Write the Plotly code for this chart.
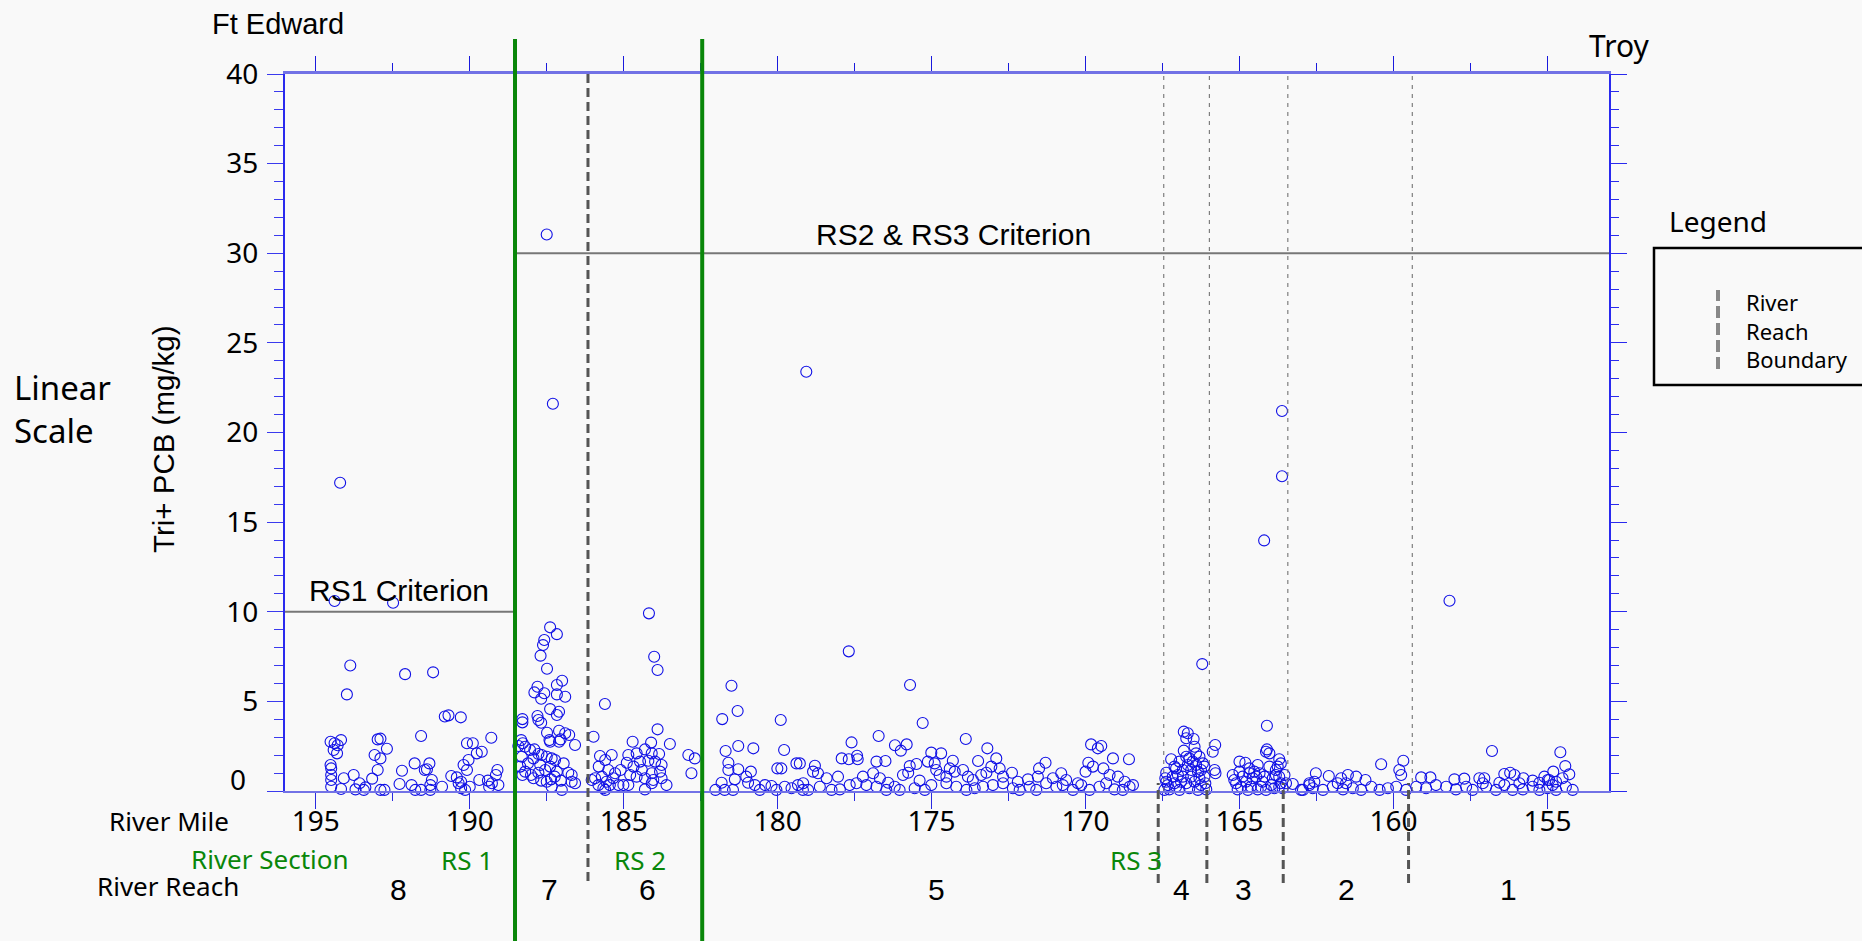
import plotly.graph_objects as go

# ---- sample data: river mile vs Tri+ PCB (mg/kg), grouped by river reach ----
reach8_mile = [194.39, 192.49, 194.21, 193.88, 193.99, 192.10, 191.19, 190.81, 190.69, 190.29,
               194.52, 194.39, 194.29, 194.18, 194.42, 194.31, 194.52, 194.50, 194.50, 194.50,
               194.50, 194.18, 194.09, 193.77, 193.71, 193.58, 193.39, 193.44, 193.17, 192.99,
               193.09, 192.90, 192.99, 192.90, 192.69, 192.90, 192.77, 192.28, 192.20, 191.89,
               191.79, 191.77, 191.58, 191.58, 191.46, 191.31, 191.39, 191.28, 191.28, 191.23,
               190.90, 190.60, 190.42, 190.28, 190.28, 190.20, 190.09, 190.04, 190.09, 189.90,
               189.77, 189.61, 189.30, 189.69, 189.41, 189.37, 189.28, 189.15, 189.10, 189.07,
               190.15, 190.00, 190.36]
reach8_pcb = [10.6, 10.5, 17.2, 7.0, 5.39, 6.52, 6.62, 4.16, 4.22, 4.11,
              2.75, 2.66, 2.55, 2.84, 2.29, 2.10, 1.45, 1.26, 0.89, 0.61,
              0.24, 0.11, 0.71, 0.89, 0.09, 0.43, 0.20, 0.06, 0.69, 1.17,
              2.01, 1.82, 2.88, 2.92, 2.36, 0.06, 0.06, 0.39, 1.13, 0.33,
              1.54, 0.06, 3.07, 0.06, 1.17, 1.54, 1.21, 0.33, 0.06, 0.61,
              0.24, 0.84, 0.76, 0.52, 0.15, 1.45, 1.17, 1.73, 2.66, 2.66,
              2.10, 2.19, 2.97, 0.61, 0.58, 0.24, 0.43, 0.89, 1.17, 0.33,
              0.06, 0.24, 0.43]

reach7_mile = [187.50, 187.30, 187.39, 187.17, 187.58, 187.62, 187.70, 187.49, 187.00, 187.17,
               187.80, 187.90, 187.58, 187.68, 187.17, 186.90, 187.39, 187.10, 187.17, 187.80,
               187.77, 187.68, 188.29, 188.29, 187.49, 187.10, 186.90, 186.77, 187.41, 187.05,
               187.39, 187.10, 186.58, 188.33, 188.28, 188.20, 188.04, 188.42, 187.90, 187.77,
               187.66, 188.31, 187.93, 187.50, 187.34, 187.23, 188.11, 187.71, 187.39, 186.95,
               188.36, 188.20, 188.01, 187.77, 187.55, 187.17, 187.24, 186.80, 188.29, 187.93,
               187.68, 187.36, 187.04, 186.69, 186.58, 187.50, 187.01, 187.34, 186.69]
reach7_pcb = [31.05, 21.6, 9.13, 8.75, 8.42, 8.14, 7.55, 6.82, 6.15, 5.91,
              5.82, 5.50, 5.45, 5.15, 5.39, 5.26, 4.57, 4.42, 4.24, 4.18,
              3.96, 3.81, 4.01, 3.83, 3.25, 3.36, 3.22, 3.12, 2.84, 2.88,
              2.75, 2.75, 2.57, 2.84, 2.66, 2.47, 2.29, 2.51, 2.32, 2.06,
              2.01, 1.91, 1.82, 1.91, 1.82, 1.73, 1.54, 1.45, 1.36, 1.54,
              1.36, 1.08, 0.89, 1.02, 1.17, 1.08, 0.80, 1.02, 0.89, 0.71,
              0.58, 0.65, 0.58, 0.52, 0.43, 0.52, 0.06, 0.24, 0.89]

reach6_mile = [184.18, 184.01, 183.90, 185.61, 183.90, 185.98, 183.50, 184.71, 184.11, 184.31,
               184.09, 183.85, 184.58, 184.85, 182.90, 182.69, 182.80, 185.77, 185.39, 185.60,
               185.81, 185.50, 184.90, 184.47, 184.20, 183.98, 183.77, 184.68, 184.41, 184.09,
               183.82, 185.10, 185.28, 185.93, 185.71, 185.56, 185.34, 184.79, 184.58, 184.31,
               184.04, 183.77, 183.61, 185.82, 185.66, 185.45, 185.17, 185.01, 184.85, 184.31,
               184.09, 185.60, 186.04]
reach6_pcb = [9.91, 7.49, 6.75, 4.85, 3.44, 3.03, 2.62, 2.75, 2.70, 2.32,
              2.10, 2.06, 2.10, 2.01, 2.01, 1.82, 0.99, 1.95, 2.01, 1.73,
              1.36, 1.17, 1.58, 1.64, 1.69, 1.64, 1.45, 1.36, 1.17, 0.99,
              1.08, 1.17, 0.99, 0.71, 0.80, 0.52, 0.71, 0.89, 0.80, 0.71,
              0.61, 0.71, 0.33, 0.33, 0.15, 0.33, 0.33, 0.33, 0.33, 0.09,
              0.43, 0.06, 0.61]

reach5_mile = [181.50, 181.30, 181.80, 179.90, 181.28, 181.69, 180.79, 179.79, 181.60, 181.60,
               181.28, 180.87, 180.01, 179.88, 179.39, 181.39, 181.02, 181.82, 182.02, 181.72,
               181.45, 180.96, 180.74, 180.58, 180.41, 180.20, 180.04, 179.77, 179.55, 179.34,
               179.18, 179.07, 177.69, 175.70, 175.29, 177.60, 176.72, 176.19, 176.00, 175.81,
               173.89, 173.19, 177.92, 177.69, 177.42, 177.40, 176.79, 176.50, 175.01, 174.69,
               175.12, 174.90, 174.31, 173.49, 172.90, 175.49, 175.71, 178.79, 178.85, 178.69,
               179.28, 178.41, 178.04, 177.23, 176.90, 176.68, 176.41, 175.93, 175.76, 175.39,
               174.85, 174.74, 174.52, 174.41, 174.25, 173.98, 173.82, 173.66, 173.39, 173.22,
               173.06, 172.79, 172.68, 172.39, 172.20, 171.87, 171.51, 171.30, 171.55, 171.06,
               170.79, 170.63, 170.25, 170.00, 169.91, 169.82, 169.60, 169.49, 169.76, 169.42,
               169.11, 168.59, 169.22, 168.95, 168.73, 168.46, 169.33,
               179.17, 179.01, 178.63, 178.25, 177.98, 177.66, 177.44, 177.12, 176.79, 176.47,
               176.20, 176.04, 175.55, 175.22, 175.01, 174.52, 174.20, 173.87, 173.60, 173.33,
               173.01, 172.68, 172.36, 172.14, 171.82, 171.60, 171.28, 170.95, 170.74, 170.41,
               170.14, 169.87, 169.55, 169.06, 168.79, 168.57]
reach5_pcb = [5.87, 4.46, 4.01, 3.96, 2.51, 2.23, 2.38, 2.29, 1.58, 1.17,
              1.21, 1.08, 1.26, 1.26, 1.54, 0.65, 0.80, 0.46, 0.06, 0.06,
              0.06, 0.46, 0.33, 0.06, 0.33, 0.28, 0.06, 0.24, 0.15, 0.33,
              0.06, 23.39, 7.79, 5.91, 3.79, 2.71, 3.07, 2.55, 2.25, 2.60,
              2.90, 2.38, 1.82, 1.77, 1.97, 1.77, 1.64, 1.67, 2.14, 2.10,
              1.64, 1.54, 1.69, 1.67, 1.82, 1.51, 1.39, 1.41, 1.08, 0.99,
              1.54, 0.71, 0.80, 0.80, 0.99, 0.71, 0.46, 0.89, 1.02, 0.58,
              1.17, 0.89, 0.80, 1.26, 1.08, 1.17, 0.80, 0.61, 0.89, 1.02,
              1.36, 1.26, 0.80, 1.02, 0.52, 0.65, 1.26, 1.58, 0.80, 0.71,
              0.99, 0.61, 0.43, 1.08, 1.58, 2.60, 2.38, 2.51, 1.36, 1.26,
              1.82, 1.77, 0.89, 0.80, 0.52, 0.33, 0.43,
              0.43, 0.06, 0.24, 0.06, 0.09, 0.33, 0.43, 0.33, 0.24, 0.06,
              0.24, 0.06, 0.15, 0.06, 0.33, 0.43, 0.24, 0.06, 0.15, 0.24,
              0.33, 0.43, 0.15, 0.06, 0.24, 0.06, 0.43, 0.24, 0.33, 0.06,
              0.33, 0.06, 0.24, 0.09, 0.06, 0.24]

reach4_mile = [166.21, 166.81, 166.68, 166.49, 166.73, 166.46, 166.41, 166.81, 167.22, 167.38,
               167.41, 167.06, 166.95, 166.63, 166.30, 166.19, 167.11, 166.84, 166.57, 166.35,
               166.14, 166.73, 166.46, 166.25, 167.28, 166.95, 166.63, 166.35, 166.08, 167.44,
               167.00, 166.68, 166.52, 167.17, 167.33, 167.06, 166.84, 166.41, 166.25, 166.14,
               166.57, 166.90, 166.30, 166.73, 167.11, 166.11, 167.38]
reach4_pcb = [7.08, 3.31, 3.22, 2.90, 2.94, 2.47, 2.10, 2.25, 1.77, 1.02,
              0.71, 1.26, 1.64, 1.82, 1.91, 1.54, 0.43, 0.80, 1.17, 1.08,
              0.80, 0.43, 0.52, 0.33, 0.09, 0.06, 0.15, 0.06, 0.09, 0.06,
              0.89, 1.45, 1.64, 0.80, 0.33, 0.24, 1.17, 1.45, 1.17, 1.36,
              0.80, 0.52, 0.71, 1.91, 1.36, 0.43, 0.52]

reach3_mile = [165.79, 165.87, 165.81, 165.78, 164.11, 164.11, 164.03, 164.14, 163.71, 163.66,
               165.00, 164.81, 165.22, 165.00, 164.68, 164.41, 164.35, 164.03, 163.82, 163.71,
               163.54, 165.11, 164.79, 164.57, 164.25, 163.92, 163.66, 165.06, 164.73, 164.41,
               164.14, 163.87, 163.60, 164.90, 164.52, 164.19, 163.76, 165.17, 164.95, 164.63,
               164.30, 163.97, 163.71, 163.49, 163.82, 164.46, 164.68, 164.20, 163.62, 163.62]
reach3_pcb = [2.57, 2.19, 1.17, 0.99, 3.64, 2.32, 2.10, 2.19, 1.77, 1.54,
              1.64, 1.58, 0.89, 1.08, 1.26, 1.45, 0.99, 1.36, 1.17, 0.80,
              0.89, 0.43, 0.52, 0.71, 0.52, 0.71, 0.43, 0.09, 0.06, 0.09,
              0.06, 0.15, 0.15, 0.80, 1.08, 0.80, 1.36, 0.61, 0.24, 0.24,
              0.24, 0.33, 0.24, 0.43, 0.89, 0.80, 0.99, 13.98, 21.2, 17.56]

reach2_mile = [163.27, 163.00, 162.73, 162.52, 162.57, 162.10, 161.48, 161.21, 160.91, 161.70,
               160.40, 159.68, 159.81, 159.75, 162.94, 162.62, 162.29, 161.97, 161.64, 161.32,
               161.05, 160.72, 160.45, 160.18, 159.91, 159.59, 162.73, 161.81, 161.54]
reach2_pcb = [0.39, 0.06, 0.33, 0.99, 0.52, 0.84, 0.89, 0.80, 0.61, 0.71,
              1.49, 1.69, 1.17, 0.89, 0.06, 0.15, 0.06, 0.24, 0.09, 0.15,
              0.06, 0.24, 0.06, 0.15, 0.24, 0.06, 0.43, 0.43, 0.43]

reach1_mile = [159.26, 158.94, 158.62, 158.29, 157.97, 157.64, 157.43, 156.99, 156.67, 156.40,
               156.13, 155.80, 155.48, 155.26, 155.00, 154.72, 154.40, 154.18, 158.18, 156.80,
               154.58, 154.42, 154.29, 154.81, 159.10, 158.80, 158.02, 157.70, 157.21, 157.05,
               156.40, 156.21, 156.07, 155.78, 155.48, 155.10, 154.94, 154.72, 154.51, 157.10,
               156.56, 155.91, 155.26, 154.83, 154.99]
reach1_pcb = [0.24, 0.15, 0.33, 0.24, 0.09, 0.24, 0.06, 0.24, 0.06, 0.33,
              0.06, 0.09, 0.24, 0.06, 0.15, 0.06, 0.24, 0.06, 10.61, 2.23,
              2.16, 1.39, 0.93, 1.08, 0.76, 0.76, 0.65, 0.69, 0.71, 0.71,
              0.95, 1.02, 0.89, 0.71, 0.58, 0.80, 0.61, 0.52, 0.71, 0.43,
              0.46, 0.43, 0.46, 0.33, 0.61]

# ---- reference lines / boundaries (river miles, mg/kg) ----
section_bounds = [188.53, 182.45]          # RS1|RS2, RS2|RS3
reach_bound_76 = 186.16
reach_bounds_upper = [167.46, 165.98, 163.43, 159.39]
reach_bounds_lower = [167.64, 166.06, 163.58, 159.51]
rs1_criterion = 10
rs23_criterion = 30

reach_labels = ["8", "7", "6", "5", "4", "3", "2", "1"]
reach_label_px = [398.7, 549, 647, 936, 1181, 1243, 1346, 1508]
section_labels = ["RS 1", "RS 2", "RS 3"]
section_label_px = [467, 640, 1135.5]

X_RANGE = [196, 153]
Y_RANGE = [0, 40]

W, H = 1862, 941
ML, MR, MT, MB = 285, 253, 74, 150
PW, PH = W - ML - MR, H - MT - MB


def fx(px):
    return (px - ML) / PW


def fy(py):
    return (H - MB - py) / PH


SANS = "Noto Sans"
ARIAL = "Liberation Sans, Arial"
GREEN = "#0a870a"
AX_BLUE = "#2a2aee"
AX_LIGHT = "#7272e6"

miles = (reach8_mile + reach7_mile + reach6_mile + reach5_mile + reach4_mile
         + reach3_mile + reach2_mile + reach1_mile)
pcbs = (reach8_pcb + reach7_pcb + reach6_pcb + reach5_pcb + reach4_pcb
        + reach3_pcb + reach2_pcb + reach1_pcb)

fig = go.Figure()
fig.add_trace(go.Scatter(
    x=miles, y=pcbs, mode="markers",
    marker=dict(symbol="circle-open", size=11, color="#1010e6", line=dict(width=1.1)),
    showlegend=False, hoverinfo="x+y", cliponaxis=False,
))
# carrier for the mirrored top / right axes
fig.add_trace(go.Scatter(x=[None], y=[None], xaxis="x2", yaxis="y2", showlegend=False))

shapes = []
# criterion lines
shapes.append(dict(type="line", xref="x", yref="y", x0=X_RANGE[0], x1=section_bounds[0],
                   y0=rs1_criterion, y1=rs1_criterion, line=dict(color="#777777", width=2)))
shapes.append(dict(type="line", xref="x", yref="y", x0=section_bounds[0], x1=X_RANGE[1],
                   y0=rs23_criterion, y1=rs23_criterion, line=dict(color="#777777", width=2)))
# thin reach boundaries inside the plot
for m in reach_bounds_upper:
    shapes.append(dict(type="line", xref="x", yref="paper", x0=m, x1=m, y0=0, y1=1,
                       line=dict(color="#666666", width=1, dash="4px,5px")))
# heavy reach boundary ticks below the axis
for m in reach_bounds_lower:
    shapes.append(dict(type="line", xref="x", yref="paper", x0=m, x1=m, y0=fy(883), y1=fy(783),
                       line=dict(color="#555555", width=3, dash="9px,5px")))
# reach 7 / 6 boundary
shapes.append(dict(type="line", xref="x", yref="paper", x0=reach_bound_76, x1=reach_bound_76,
                   y0=fy(881), y1=fy(69), line=dict(color="#555555", width=3, dash="9px,5px")))
# river section boundaries
for m in section_bounds:
    shapes.append(dict(type="line", xref="x", yref="paper", x0=m, x1=m, y0=fy(941), y1=fy(39),
                       line=dict(color=GREEN, width=4)))
# legend frame and sample
shapes.append(dict(type="rect", xref="paper", yref="paper", x0=fx(1654), x1=fx(1880),
                   y0=fy(385), y1=fy(248), line=dict(color="black", width=2.5)))
shapes.append(dict(type="line", xref="paper", yref="paper", x0=fx(1718), x1=fx(1718),
                   y0=fy(369), y1=fy(290), line=dict(color="#888888", width=4, dash="12px,5px")))

ann = []


def text(t, px, py, size, family=SANS, color="black", xanchor="center", angle=0, align="center"):
    ann.append(dict(text=t, x=fx(px), y=fy(py), xref="paper", yref="paper", showarrow=False,
                    xanchor=xanchor, yanchor="middle", textangle=angle, align=align,
                    font=dict(family=family, size=size, color=color)))


text("Ft Edward", 277.5, 24, 29, ARIAL)
text("Troy", 1619.5, 45, 30)
text("Legend", 1718.5, 221, 28)
text("River<br>Reach<br>Boundary", 1744, 330, 22, xanchor="left", align="left")
text("Linear<br>Scale", 12, 409, 33, xanchor="left", align="left")
text("Tri+ PCB (mg/kg)", 163, 439, 29.5, ARIAL, angle=-90)
text("RS1 Criterion", 398.5, 590, 30, ARIAL)
text("RS2 & RS3 Criterion", 953, 234, 30, ARIAL)
text("0", 248, 779, 28, xanchor="right")
text("River Mile", 168.7, 821, 26)
text("River Section", 270, 859, 26, color=GREEN)
for lbl, px in zip(section_labels, section_label_px):
    text(lbl, px, 860, 26, color=GREEN)
text("River Reach", 167.8, 886, 26)
for lbl, px in zip(reach_labels, reach_label_px):
    text(lbl, px, 889, 30, ARIAL)

fig.update_layout(
    width=W, height=H,
    margin=dict(l=ML, r=MR, t=MT, b=MB, pad=0),
    paper_bgcolor="#f9f9f9", plot_bgcolor="#f9f9f9",
    showlegend=False,
    shapes=shapes, annotations=ann,
    xaxis=dict(range=X_RANGE, showgrid=False, zeroline=False,
               showline=True, linecolor=AX_LIGHT, linewidth=2,
               tickmode="linear", tick0=155, dtick=5, ticks="outside", ticklen=16,
               tickwidth=1, tickcolor="#2a2ae0", ticklabelstandoff=-12,
               minor=dict(dtick=2.5, tick0=155, ticks="outside", ticklen=8, tickcolor="#2a2ae0"),
               tickfont=dict(family=SANS, size=28, color="black")),
    xaxis2=dict(range=X_RANGE, overlaying="x", side="top", showgrid=False, zeroline=False,
                showline=True, linecolor=AX_LIGHT, linewidth=3,
                tickmode="linear", tick0=155, dtick=5, ticks="outside", ticklen=15,
                tickwidth=1, tickcolor="#1a1add", showticklabels=False,
                minor=dict(dtick=2.5, tick0=155, ticks="outside", ticklen=8, tickcolor="#1a1add")),
    yaxis=dict(range=Y_RANGE, showgrid=False, zeroline=False,
               showline=True, linecolor=AX_BLUE, linewidth=2,
               tickmode="array", tickvals=[0, 5, 10, 15, 20, 25, 30, 35, 40],
               ticktext=["", "5", "10", "15", "20", "25", "30", "35", "40"],
               ticks="outside", ticklen=16, tickwidth=1, tickcolor="#3a3aee",
               ticklabelstandoff=3,
               minor=dict(dtick=1, tick0=0, ticks="outside", ticklen=9, tickcolor="#3a3aee"),
               tickfont=dict(family=SANS, size=28, color="black")),
    yaxis2=dict(range=Y_RANGE, overlaying="y", side="right", showgrid=False, zeroline=False,
                showline=True, linecolor=AX_BLUE, linewidth=2,
                tickmode="linear", tick0=0, dtick=5, ticks="outside", ticklen=16,
                tickwidth=1, tickcolor="#2a2aee", showticklabels=False,
                minor=dict(dtick=1, tick0=0, ticks="outside", ticklen=8, tickcolor="#2a2aee")),
)

fig.write_html("out.html")
